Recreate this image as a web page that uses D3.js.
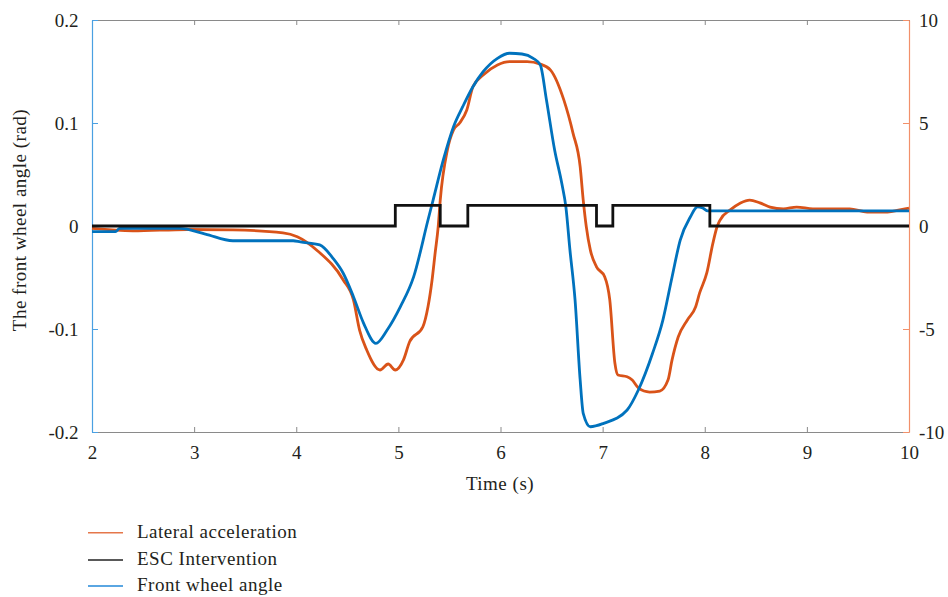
<!DOCTYPE html>
<html>
<head>
<meta charset="utf-8">
<script src="https://cdnjs.cloudflare.com/ajax/libs/d3/7.8.5/d3.min.js"></script>
<style>
  body { margin: 0; background: #fff; }
</style>
</head>
<body>
<script>
// front wheel angle (rad), left axis
const angleTime = [2.00, 2.23, 2.27, 2.86, 3.11, 3.38, 3.97, 4.04, 4.23, 4.36, 4.46, 4.56, 4.66, 4.78, 4.89,
  5.02, 5.15, 5.29, 5.34, 5.44, 5.54, 5.63, 5.73, 5.83, 5.97, 6.09, 6.21, 6.32, 6.39, 6.45, 6.53, 6.60, 6.64,
  6.68, 6.73, 6.78, 6.81, 6.88, 7.01, 7.24, 7.35, 7.49, 7.59, 7.68, 7.76, 7.86, 7.93, 7.98, 8.03, 10.0];
const angleValue = [-0.0055, -0.0055, -0.0024, -0.0024, -0.0078, -0.0143, -0.0143, -0.0155, -0.0184, -0.0314, -0.0459, -0.0686, -0.0945, -0.1139, -0.101,
  -0.0783, -0.0492, 0.0058, 0.0252, 0.0641, 0.0964, 0.1158, 0.1352, 0.1498, 0.1628, 0.1677, 0.1670, 0.1628, 0.1563, 0.1223, 0.0738, 0.0414, 0.0187,
  -0.0233, -0.0718, -0.1495, -0.1819, -0.1949, -0.1916, -0.1786, -0.1592, -0.1233, -0.0913, -0.0495, -0.0136, 0.0090, 0.0187, 0.0175, 0.0146, 0.0146];

// lateral acceleration, right axis
const accTime = [2.00, 2.40, 2.93, 3.38, 3.87, 4.01, 4.21, 4.46, 4.56, 4.62, 4.69, 4.82, 4.90, 4.97, 5.05, 5.11, 5.24, 5.29, 5.33, 5.36, 5.39,
  5.41, 5.48, 5.54, 5.60, 5.67, 5.73, 5.83, 5.97, 6.09, 6.26, 6.39, 6.49, 6.62, 6.71, 6.78, 6.81, 6.84, 6.88, 6.94, 7.02, 7.07, 7.12, 7.15,
  7.24, 7.29, 7.35, 7.46, 7.56, 7.64, 7.68, 7.74, 7.83, 7.91, 7.95, 8.02, 8.08, 8.12, 8.15, 8.25, 8.35, 8.44, 8.54, 8.64, 8.77, 8.90,
  9.06, 9.26, 9.42, 9.59, 9.79, 9.91, 10.0];
const accValue = [-0.12, -0.24, -0.17, -0.19, -0.33, -0.52, -1.21, -2.62, -3.59, -5.05, -6.02, -6.99, -6.70, -6.99, -6.50, -5.62, -4.89, -3.92, -2.62, -1.31, -0.03,
  1.26, 3.69, 4.66, 5.00, 5.63, 6.76, 7.33, 7.82, 7.98, 7.98, 7.86, 7.57, 6.12, 4.51, 2.88, 1.26, -0.03, -1.17, -1.98, -2.46, -3.59, -6.65, -7.23,
  -7.32, -7.48, -7.86, -8.06, -8.01, -7.48, -6.50, -5.39, -4.56, -3.93, -3.25, -2.28, -0.83, -0.05, 0.29, 0.78, 1.12, 1.26, 1.12, 0.92, 0.83, 0.92,
  0.83, 0.83, 0.83, 0.68, 0.68, 0.78, 0.87];

// ESC intervention (on/off), right axis
const escTime = [2.0, 4.97, 5.41, 5.68, 6.94, 7.10, 8.05, 10.0];
const escValue = [0, 1, 0, 1, 0, 1, 0, 0];

const xTicks = [2, 3, 4, 5, 6, 7, 8, 9, 10];
const leftTicks = [0.2, 0.1, 0, -0.1, -0.2];
const rightTicks = [10, 5, 0, -5, -10];
const legendNames = ["Lateral acceleration", "ESC Intervention", "Front wheel angle"];

const W = 948, H = 597;
const m = { left: 92, right: 909, top: 20, bottom: 432 };
const blue = "#0072BD", orange = "#D95319";
const font = "'Liberation Serif', 'DejaVu Serif', serif";
const ink = "#231f20";

const svg = d3.select("body").append("svg").attr("width", W).attr("height", H);

const x = d3.scaleLinear().domain([2, 10]).range([m.left, m.right]);
const yL = d3.scaleLinear().domain([-0.2, 0.2]).range([m.bottom, m.top]);
const yR = d3.scaleLinear().domain([-10, 10]).range([m.bottom, m.top]);

// plain hyphen instead of the unicode minus
const hyphen = f => d => f(d).replace("\u2212", "-");

function styleText(g) {
  g.selectAll("text").style("font-family", font).style("font-size", "19px").attr("fill", ink);
}

// top and bottom frame
svg.append("g")
  .attr("transform", "translate(0," + m.bottom + ")")
  .call(d3.axisBottom(x).tickValues(xTicks).tickSizeInner(-5).tickSizeOuter(0).tickPadding(13.5).tickFormat(d3.format("d")))
  .call(g => g.selectAll("line, path").attr("stroke", "#8a8a8a"))
  .call(styleText);
svg.append("g")
  .attr("transform", "translate(0," + m.top + ")")
  .call(d3.axisTop(x).tickValues(xTicks).tickSizeInner(-5).tickSizeOuter(0).tickFormat(""))
  .call(g => g.selectAll("line, path").attr("stroke", "#8a8a8a"));

// left axis
const fmtL = d => d === 0 ? "0" : d3.format(".1f")(d);
svg.append("g")
  .attr("transform", "translate(" + m.left + ",0)")
  .call(d3.axisLeft(yL).tickValues(leftTicks).tickSizeInner(-6).tickSizeOuter(0).tickPadding(13.5).tickFormat(hyphen(fmtL)))
  .call(g => g.selectAll("line, path").attr("stroke", "#4aa0e2"))
  .call(styleText);

// right axis
svg.append("g")
  .attr("transform", "translate(" + m.right + ",0)")
  .call(d3.axisRight(yR).tickValues(rightTicks).tickSizeInner(-6).tickSizeOuter(0).tickPadding(10).tickFormat(hyphen(d3.format("d"))))
  .call(g => g.selectAll("line, path").attr("stroke", "#f2906a"))
  .call(styleText);

svg.selectAll(".domain").attr("stroke-width", 1.2);

// series
const line = (ys) => d3.line().x(d => x(d[0])).y(d => ys(d[1]));

svg.append("path")
  .datum(d3.zip(accTime, accValue))
  .attr("fill", "none").attr("stroke", orange).attr("stroke-width", 2.8)
  .attr("stroke-linejoin", "round")
  .attr("d", line(yR).curve(d3.curveMonotoneX));

svg.append("path")
  .datum(d3.zip(angleTime, angleValue))
  .attr("fill", "none").attr("stroke", blue).attr("stroke-width", 2.8)
  .attr("stroke-linejoin", "round")
  .attr("d", line(yL).curve(d3.curveMonotoneX));

svg.append("path")
  .datum(d3.zip(escTime, escValue))
  .attr("fill", "none").attr("stroke", "#111").attr("stroke-width", 2.8)
  .attr("d", line(yR).curve(d3.curveStepAfter));

// axis titles
const label = (sel) => sel.style("font-family", font).style("font-size", "19px")
  .style("letter-spacing", "0.5px").attr("fill", ink);
svg.append("text")
  .attr("x", 500).attr("y", 490)
  .attr("text-anchor", "middle").call(label)
  .text("Time (s)");
svg.append("text")
  .attr("transform", "translate(26,220) rotate(-90)")
  .attr("text-anchor", "middle").call(label)
  .text("The front wheel angle (rad)");

// legend
const legendColors = ["#e5774a", "#222", "#2388d8"];
const legendY = [532.7, 560, 586];
const lg = svg.append("g");
legendNames.forEach((name, i) => {
  const yy = legendY[i];
  lg.append("line").attr("x1", 88).attr("x2", 123).attr("y1", yy).attr("y2", yy)
    .attr("stroke", legendColors[i]).attr("stroke-width", 1.6);
  lg.append("text").attr("x", 137).attr("y", yy + 5).call(label).text(name);
});
</script>
</body>
</html>
